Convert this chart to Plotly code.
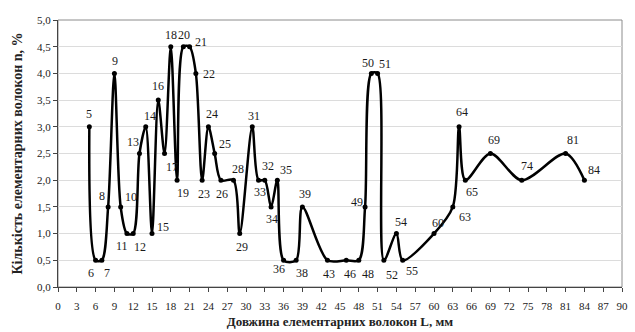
import plotly.graph_objects as go

# Data: fibre length L (mm) and share n (%)
lengths = [5, 6, 7, 8, 9, 10, 11, 12, 13, 14, 15, 16, 17, 18, 19, 20, 21, 22, 23, 24,
           25, 26, 28, 29, 31, 32, 33, 34, 35, 36, 38, 39, 43, 46, 48, 49, 50, 51, 52,
           54, 55, 60, 63, 64, 65, 69, 74, 81, 84]
shares = [3.0, 0.5, 0.5, 1.5, 4.0, 1.5, 1.0, 1.0, 2.5, 3.0, 1.0, 3.5, 2.5, 4.5, 2.0, 4.5, 4.5, 4.0, 2.0, 3.0,
          2.5, 2.0, 2.0, 1.0, 3.0, 2.0, 2.0, 1.5, 2.0, 0.5, 0.5, 1.5, 0.5, 0.5, 0.5, 1.5, 4.0, 4.0, 0.5,
          1.0, 0.5, 1.0, 1.5, 3.0, 2.0, 2.5, 2.0, 2.5, 2.0]
x_ticks = list(range(0, 91, 3))
y_ticks = [0.0, 0.5, 1.0, 1.5, 2.0, 2.5, 3.0, 3.5, 4.0, 4.5, 5.0]

# label offsets (px) for each point label: (xshift, yshift)
label_shift = {
    5: (0, 13), 6: (-5, -13), 7: (5, -13), 8: (-6, 11), 9: (1, 12), 10: (10, 10),
    11: (-5, -12), 12: (7, -13), 13: (-6, 12), 14: (4, 11), 15: (11, 7), 16: (0, 14),
    17: (7, -13), 18: (0, 12), 19: (6, -13), 20: (1, 12), 21: (11, 5), 22: (13, -1),
    23: (2, -14), 24: (4, 13), 25: (10, 10), 26: (1, -14), 28: (5, 11), 29: (2, -13),
    31: (2, 11), 32: (9, 14), 33: (-5, -12), 34: (1, -12), 35: (9, 10), 36: (-5, -9),
    38: (6, -13), 39: (3, 13), 43: (2, -14), 46: (4, -14), 48: (9, -14), 49: (-8, 5),
    50: (-3, 10), 51: (7, 9), 52: (8, -15), 54: (5, 12), 55: (9, -11), 60: (4, 11),
    63: (12, -10), 64: (3, 15), 65: (7, -12), 69: (4, 14), 74: (5, 14), 81: (7, 14),
    84: (10, 10),
}

serif = "Liberation Serif"

fig = go.Figure()
fig.add_trace(go.Scatter(
    x=lengths, y=shares, mode="lines+markers",
    line=dict(color="black", width=2.5, shape="spline", smoothing=0.85),
    marker=dict(color="black", size=5),
    hoverinfo="x+y", showlegend=False,
))

annotations = []
for L, n in zip(lengths, shares):
    dx, dy = label_shift.get(L, (0, 12))
    annotations.append(dict(
        x=L, y=n, xref="x", yref="y", text=str(L), showarrow=False,
        xshift=dx, yshift=dy, font=dict(family=serif, size=12, color="#1a1a1a"),
    ))

fig.update_layout(
    width=635, height=332,
    margin=dict(l=58, r=13, t=20, b=45),
    paper_bgcolor="white", plot_bgcolor="white",
    separators=", ",
    annotations=annotations,
    font=dict(family=serif, size=11, color="#222"),
    shapes=[dict(type="rect", xref="paper", yref="paper", x0=0, y0=0, x1=1, y1=1,
                 line=dict(color="#8c8c8c", width=1), layer="below")],
)
fig.update_xaxes(
    range=[0, 90], tickvals=x_ticks, ticktext=[str(t) for t in x_ticks],
    automargin=False,
    showgrid=False, zeroline=False, showline=True, linecolor="#444", linewidth=1,
    ticks="outside", ticklen=4, tickcolor="#444", ticklabelstandoff=5,
    tickfont=dict(family=serif, size=11, color="#222"),
    title=dict(text="<b>Довжина елементарних волокон L, мм</b>",
               font=dict(family=serif, size=13, color="#222"), standoff=5),
)
fig.update_yaxes(
    range=[0, 5], tickvals=y_ticks, tickformat=".1f",
    automargin=False,
    showgrid=True, gridcolor="#dcdcdc", gridwidth=1,
    zeroline=False, showline=True, linecolor="#444", linewidth=1,
    ticks="outside", ticklen=4, tickcolor="#444",
    tickfont=dict(family=serif, size=11, color="#222"),
    title=dict(text="<b>Кількість елементарних волокон n, %</b>",
               font=dict(family=serif, size=14, color="#222"), standoff=11),
)

fig.write_html(
    "out.html",
    config={"displayModeBar": False},
    post_script="document.body.style.margin='0';document.body.style.overflow='hidden';",
)
